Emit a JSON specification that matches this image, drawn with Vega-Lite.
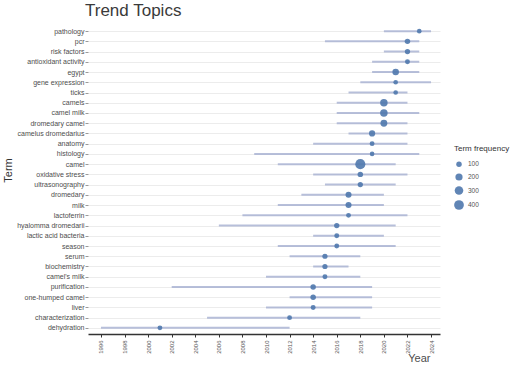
{
  "$schema": "https://vega.github.io/schema/vega-lite/v6.json",
  "autosize": {"type": "none"},
  "padding": {"left": 88, "top": 25, "right": 83, "bottom": 33},
  "width": 352,
  "height": 309,
  "background": "white",
  "title": {"text": "Trend Topics", "anchor": "start", "frame": "group", "dx": -3, "offset": 5, "fontSize": 17, "fontWeight": "normal", "font": "Liberation Sans", "color": "#3a3a3a"},
  "data": {"values": [
    {"term": "pathology", "q1": 2020, "median": 2023, "q3": 2024, "freq": 60},
    {"term": "pcr", "q1": 2015, "median": 2022, "q3": 2023, "freq": 100},
    {"term": "risk factors", "q1": 2020, "median": 2022, "q3": 2023, "freq": 90},
    {"term": "antioxidant activity", "q1": 2019, "median": 2022, "q3": 2023, "freq": 75},
    {"term": "egypt", "q1": 2019, "median": 2021, "q3": 2023, "freq": 160},
    {"term": "gene expression", "q1": 2018, "median": 2021, "q3": 2024, "freq": 60},
    {"term": "ticks", "q1": 2017, "median": 2021, "q3": 2022, "freq": 60},
    {"term": "camels", "q1": 2016, "median": 2020, "q3": 2022, "freq": 220},
    {"term": "camel milk", "q1": 2016, "median": 2020, "q3": 2023, "freq": 220},
    {"term": "dromedary camel", "q1": 2016, "median": 2020, "q3": 2022, "freq": 180},
    {"term": "camelus dromedarius", "q1": 2017, "median": 2019, "q3": 2022, "freq": 140},
    {"term": "anatomy", "q1": 2014, "median": 2019, "q3": 2022, "freq": 70},
    {"term": "histology", "q1": 2009, "median": 2019, "q3": 2023, "freq": 60},
    {"term": "camel", "q1": 2011, "median": 2018, "q3": 2021, "freq": 430},
    {"term": "oxidative stress", "q1": 2014, "median": 2018, "q3": 2022, "freq": 100},
    {"term": "ultrasonography", "q1": 2015, "median": 2018, "q3": 2021, "freq": 90},
    {"term": "dromedary", "q1": 2013, "median": 2017, "q3": 2020, "freq": 130},
    {"term": "milk", "q1": 2011, "median": 2017, "q3": 2020, "freq": 130},
    {"term": "lactoferrin", "q1": 2008, "median": 2017, "q3": 2022, "freq": 70},
    {"term": "hyalomma dromedarii", "q1": 2006, "median": 2016, "q3": 2021, "freq": 90},
    {"term": "lactic acid bacteria", "q1": 2014, "median": 2016, "q3": 2020, "freq": 75},
    {"term": "season", "q1": 2011, "median": 2016, "q3": 2021, "freq": 70},
    {"term": "serum", "q1": 2012, "median": 2015, "q3": 2018, "freq": 85},
    {"term": "biochemistry", "q1": 2014, "median": 2015, "q3": 2017, "freq": 85},
    {"term": "camel's milk", "q1": 2010, "median": 2015, "q3": 2018, "freq": 75},
    {"term": "purification", "q1": 2002, "median": 2014, "q3": 2019, "freq": 100},
    {"term": "one-humped camel", "q1": 2012, "median": 2014, "q3": 2019, "freq": 100},
    {"term": "liver", "q1": 2010, "median": 2014, "q3": 2019, "freq": 75},
    {"term": "characterization", "q1": 2005, "median": 2012, "q3": 2018, "freq": 70},
    {"term": "dehydration", "q1": 1996, "median": 2001, "q3": 2012, "freq": 70}
  ]},
  "encoding": {
    "y": {
      "field": "term", "type": "nominal", "sort": null,
      "scale": {"type": "point", "padding": 0.6},
      "axis": {
        "title": "Term", "titleFont": "Liberation Sans", "titleFontSize": 11, "titleFontWeight": "normal", "titleColor": "#333333",
        "titleX": -80, "titleY": 145, "titleAngle": 270, "titleAlign": "center", "titleBaseline": "middle",
        "labelFont": "Liberation Sans", "labelFontSize": 7, "labelColor": "#4d4d4d", "labelPadding": 1,
        "domain": false, "ticks": true, "tickSize": 3, "tickColor": "#999999",
        "grid": true, "gridColor": "#ececec", "gridWidth": 1
      }
    }
  },
  "layer": [
    {
      "mark": {"type": "rule", "color": "#aab4d4", "strokeWidth": 2, "opacity": 0.85},
      "encoding": {
        "x": {
          "field": "q1", "type": "quantitative",
          "scale": {"domain": [1994.9, 2024.76], "nice": false, "zero": false},
          "axis": {
            "title": "Year", "titleFont": "Liberation Sans", "titleFontSize": 11, "titleFontWeight": "normal", "titleColor": "#4d4d4d",
            "titleX": 342, "titleY": 27, "titleAlign": "right", "titleBaseline": "alphabetic",
            "values": [1996, 1998, 2000, 2002, 2004, 2006, 2008, 2010, 2012, 2014, 2016, 2018, 2020, 2022, 2024],
            "format": "d", "labelAngle": 270, "labelOverlap": false, "labelSeparation": 0, "labelFont": "Liberation Sans", "labelFontSize": 6, "labelColor": "#555555", "labelPadding": 3,
            "domain": true, "domainColor": "#333333", "domainWidth": 1.5,
            "ticks": true, "tickColor": "#333333", "tickSize": 3, "grid": false
          }
        },
        "x2": {"field": "q3"}
      }
    },
    {
      "mark": {"type": "circle", "color": "#4f78ad", "opacity": 0.9},
      "encoding": {
        "x": {
          "field": "median", "type": "quantitative",
          "scale": {"domain": [1994.9, 2024.76], "nice": false, "zero": false},
          "axis": {
            "title": "Year", "titleFont": "Liberation Sans", "titleFontSize": 11, "titleFontWeight": "normal", "titleColor": "#4d4d4d",
            "titleX": 342, "titleY": 27, "titleAlign": "right", "titleBaseline": "alphabetic",
            "values": [1996, 1998, 2000, 2002, 2004, 2006, 2008, 2010, 2012, 2014, 2016, 2018, 2020, 2022, 2024],
            "format": "d", "labelAngle": 270, "labelOverlap": false, "labelSeparation": 0, "labelFont": "Liberation Sans", "labelFontSize": 6, "labelColor": "#555555", "labelPadding": 3,
            "domain": true, "domainColor": "#333333", "domainWidth": 1.5,
            "ticks": true, "tickColor": "#333333", "tickSize": 3, "grid": false
          }
        },
        "size": {
          "field": "freq", "type": "quantitative",
          "scale": {"domain": [100, 400], "range": [30, 95], "zero": false, "clamp": false},
          "legend": {
            "title": "Term frequency", "orient": "none", "legendX": 366, "legendY": 120,
            "values": [100, 200, 300, 400],
            "titleFont": "Liberation Sans", "titleFontSize": 8, "titleFontWeight": "normal", "titleColor": "#333333", "titlePadding": 8,
            "labelFont": "Liberation Sans", "labelFontSize": 6.5, "labelColor": "#555555",
            "symbolFillColor": "#4f78ad", "symbolStrokeWidth": 0, "symbolOpacity": 0.9, "rowPadding": 5
          }
        }
      }
    }
  ],
  "config": {"view": {"stroke": null}, "axisX": {"labelOverlap": false}}
}
